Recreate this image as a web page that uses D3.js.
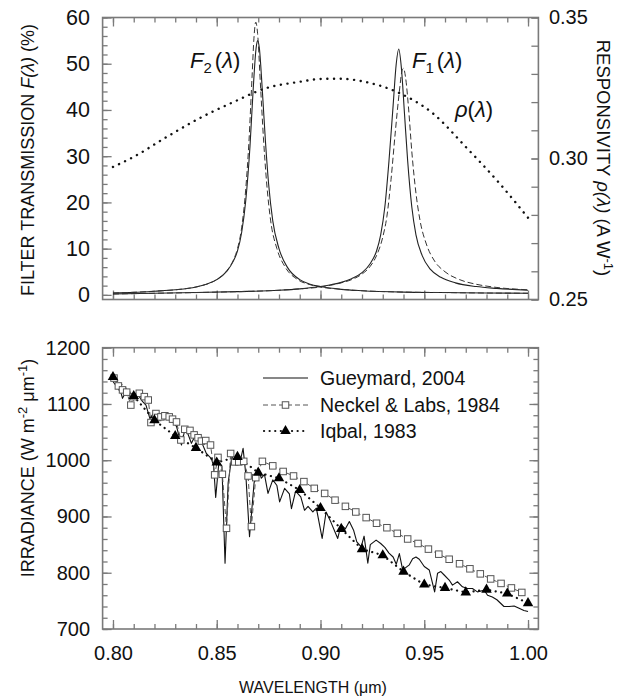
<!DOCTYPE html>
<html>
<head>
<meta charset="utf-8">
<script src="https://cdn.jsdelivr.net/npm/d3@7"></script>
<style>
  body { margin: 0; background: #fff; }
  text { font-family: "Liberation Sans", Arial, sans-serif; fill: #111; }
</style>
</head>
<body>
<svg id="chart" width="618" height="698"></svg>
<script>
// ---- top panel: filter transmission (%) ----
var f2Wave  = [0.800,0.810,0.820,0.830,0.840,0.845,0.850,0.855,0.858,0.860,0.862,0.864,0.866,0.8675,0.869,0.8697,0.8705,0.872,0.8735,0.875,0.877,0.880,0.884,0.890,0.895,0.900,0.910,0.920,0.940,0.960,0.980,1.000];
var f2Solid = [0.4,0.55,0.8,1.1,1.7,2.3,3.3,5.2,7.3,9.5,13.5,20.5,32,44,53.5,55,53.5,44,33,24,16,10,6,3.3,2.3,1.8,1.2,0.9,0.6,0.5,0.4,0.35];
var f2dWave = [0.800,0.810,0.820,0.830,0.840,0.845,0.850,0.855,0.858,0.860,0.862,0.864,0.8655,0.867,0.868,0.8688,0.8697,0.871,0.8725,0.874,0.876,0.879,0.883,0.889,0.895,0.900,0.910,0.920,0.940,0.960,0.980,1.000];
var f2Dash  = [0.4,0.55,0.8,1.1,1.7,2.3,3.3,5.3,7.5,10,14.5,23,33,47,56,59,56.5,46,34,24.5,16,10,6,3.3,2.2,1.7,1.2,0.9,0.6,0.5,0.4,0.35];

var f1Wave  = [0.800,0.820,0.840,0.860,0.880,0.890,0.900,0.905,0.910,0.915,0.920,0.924,0.927,0.929,0.931,0.933,0.935,0.9365,0.9377,0.939,0.9405,0.942,0.944,0.946,0.949,0.953,0.958,0.965,0.975,0.985,1.000];
var f1Solid = [0.2,0.35,0.5,0.7,1.0,1.3,1.8,2.2,2.7,3.5,4.8,6.8,9.5,13,19,29,41,50,53.2,49,39,29,19,13,8.5,5.5,3.8,2.6,1.8,1.4,1.0];
var f1dWave = [0.800,0.820,0.840,0.860,0.880,0.890,0.900,0.905,0.910,0.915,0.920,0.924,0.927,0.930,0.932,0.934,0.936,0.938,0.9393,0.940,0.941,0.9425,0.944,0.946,0.948,0.951,0.955,0.960,0.967,0.975,0.985,1.000];
var f1Dash  = [0.2,0.35,0.5,0.7,1.0,1.3,1.7,2.1,2.6,3.3,4.5,6.2,8.5,12.5,17,25,35,44,48.5,49,47,40,31,22,16,11,7.3,5,3.3,2.3,1.6,1.1];

// responsivity (A/W), right axis
var rhoWave = [0.800,0.810,0.826,0.842,0.858,0.874,0.890,0.900,0.909,0.922,0.938,0.954,0.970,0.986,1.000];
var rhoVal  = [0.2970,0.3006,0.3077,0.3144,0.3200,0.3250,0.3272,0.3282,0.3283,0.3271,0.3232,0.3161,0.3041,0.2914,0.2790];

// ---- bottom panel: irradiance (W m-2 um-1) ----
var guWave = [0.800,0.802,0.804,0.8046,0.8066,0.8085,0.8098,0.812,0.8127,0.8143,0.8159,0.8178,0.8194,0.8207,0.8226,0.825,0.8266,0.828,0.8306,0.833,0.8346,0.836,0.8378,0.8394,0.841,0.8426,0.845,0.8474,0.8485,0.8495,0.851,0.8525,0.854,0.8555,0.857,0.859,0.861,0.8627,0.864,0.8658,0.868,0.870,0.8715,0.873,0.8747,0.877,0.879,0.8803,0.8827,0.885,0.886,0.888,0.8905,0.8923,0.894,0.8963,0.898,0.9008,0.9027,0.905,0.9083,0.9099,0.912,0.9139,0.916,0.9175,0.9196,0.921,0.9228,0.924,0.9268,0.929,0.931,0.933,0.935,0.9365,0.938,0.9396,0.9428,0.9444,0.946,0.9476,0.950,0.9524,0.955,0.9564,0.958,0.9596,0.962,0.9636,0.966,0.9684,0.9708,0.9732,0.9756,0.9789,0.9805,0.9828,0.985,0.9884,0.9909,0.9933,0.9957,0.998,1.000];
var guIrr  = [1140,1130,1118,1110,1124,1112,1107,1115,1113,1104,1098,1074,1083,1068,1071,1077,1080,1072,1060,1027,1054,1048,1030,1042,1045,1033,1012,1003,990,934,995,990,817,960,1000,1000,993,1021,975,864,960,985,968,975,941,965,955,926,950,940,914,945,935,911,918,908,915,861,908,890,861,885,878,891,875,855,846,865,817,850,858,852,845,835,828,815,834,805,814,825,828,824,811,805,766,799,802,796,787,778,784,775,772,772,766,769,760,757,752,740,740,741,737,733,731];

var nlWave = [0.8005,0.8026,0.8046,0.8066,0.8086,0.8098,0.8127,0.8151,0.8170,0.8183,0.8207,0.8215,0.8231,0.8250,0.8271,0.8287,0.8306,0.8327,0.8346,0.8371,0.8391,0.8410,0.8426,0.8447,0.8470,0.8490,0.8506,0.8527,0.8547,0.8567,0.8587,0.8606,0.8630,0.8651,0.8667,0.8688,
              0.872,0.877,0.882,0.887,0.892,0.897,0.902,0.907,0.912,0.917,0.922,0.927,0.932,0.937,0.942,0.947,0.952,0.957,0.962,0.967,0.972,0.977,0.982,0.987,0.992,0.997];
var nlIrr  = [1146,1132,1125,1121,1098,1113,1119,1113,1107,1067,1083,1076,1077,1079,1077,1073,1068,1036,1055,1053,1045,1040,1034,1035,1027,974,1005,975,879,1012,997,997,998,972,882,969,
              998,990,980,972,962,950,941,929,918,908,898,888,880,870,860,852,842,833,824,816,807,798,789,781,773,765];

var iqWave = [0.80,0.81,0.82,0.83,0.84,0.85,0.86,0.87,0.88,0.89,0.90,0.91,0.92,0.93,0.94,0.95,0.96,0.97,0.98,0.99,1.00];
var iqIrr  = [1148,1114,1071,1043,1022,996,1006,978,968,947,915,878,842,831,802,779,773,765,770,763,746];

var xMajor = [0.80,0.85,0.90,0.95,1.00];
var xMinor = d3.range(80, 101).map(function(d) { return d / 100; });
var fMajor = [0,10,20,30,40,50,60];
var fMinor = d3.range(0, 61, 2);
var rMajor = [0.25,0.30,0.35];
var rMinor = d3.range(25, 36).map(function(d) { return d / 100; });
var iMajor = [700,800,900,1000,1100,1200];
var iMinor = d3.range(700, 1201, 20);

var legendItems = ["Gueymard, 2004", "Neckel & Labs, 1984", "Iqbal, 1983"];

var svg = d3.select("#chart");
var frameColor = "#7a7a7a";

var x = d3.scaleLinear().domain([0.795, 1.005]).range([102.6, 538.4]);
var yF = d3.scaleLinear().domain([-1, 60]).range([299.5, 17.5]);
var yR = d3.scaleLinear().domain([0.25, 0.35]).range([299.5, 17.5]);
var yI = d3.scaleLinear().domain([700, 1200]).range([629, 347.7]);

function zip(a, b) { return a.map(function(v, i) { return [v, b[i]]; }); }

// draws one set of inward ticks via a d3 axis
function tickSet(axisFn, scale, values, size, tx, ty, labels, pad, fs) {
  var ax = axisFn(scale).tickValues(values).tickSize(-size).tickSizeOuter(0)
    .tickPadding(pad || 3);
  if (labels) ax.tickFormat(labels); else ax.tickFormat("");
  var g = svg.append("g").attr("transform", "translate(" + tx + "," + ty + ")").call(ax);
  g.select(".domain").remove();
  g.selectAll("line").attr("stroke", frameColor).attr("stroke-width", 1.3);
  g.selectAll("text").attr("font-size", fs || 20).attr("fill", "#111");
  return g;
}

function panelFrame(yTop, yBot) {
  svg.append("rect")
    .attr("x", 102.6).attr("y", yTop)
    .attr("width", 538.4 - 102.6).attr("height", yBot - yTop)
    .attr("fill", "none").attr("stroke", frameColor).attr("stroke-width", 1.6);
}

// ---------- top panel ----------
panelFrame(17.5, 299.5);
tickSet(d3.axisBottom, x, xMinor, 5, 0, 299.5);
tickSet(d3.axisBottom, x, xMajor, 9, 0, 299.5);
tickSet(d3.axisTop, x, xMinor, 5, 0, 17.5);
tickSet(d3.axisTop, x, xMajor, 9, 0, 17.5);
tickSet(d3.axisLeft, yF, fMinor, 5, 102.6, 0);
tickSet(d3.axisLeft, yF, fMajor, 9, 102.6, 0, d3.format("d"), 12.6, 21.5);
tickSet(d3.axisRight, yR, rMinor, 7, 538.4, 0);
tickSet(d3.axisRight, yR, rMajor, 7, 538.4, 0, d3.format(".2f"), 10.5);

var lineF = d3.line().x(function(d) { return x(d[0]); }).y(function(d) { return yF(d[1]); })
  .curve(d3.curveMonotoneX);

var topG = svg.append("g");
topG.append("path").datum(zip(f2Wave, f2Solid))
  .attr("d", lineF).attr("fill", "none").attr("stroke", "#222").attr("stroke-width", 1.1);
topG.append("path").datum(zip(f2dWave, f2Dash))
  .attr("d", lineF).attr("fill", "none").attr("stroke", "#333").attr("stroke-width", 1)
  .attr("stroke-dasharray", "6,3");
topG.append("path").datum(zip(f1Wave, f1Solid))
  .attr("d", lineF).attr("fill", "none").attr("stroke", "#222").attr("stroke-width", 1.1);
topG.append("path").datum(zip(f1dWave, f1Dash))
  .attr("d", lineF).attr("fill", "none").attr("stroke", "#333").attr("stroke-width", 1)
  .attr("stroke-dasharray", "6,3");

var lineR = d3.line().x(function(d) { return x(d[0]); }).y(function(d) { return yR(d[1]); })
  .curve(d3.curveMonotoneX);
topG.append("path").datum(zip(rhoWave, rhoVal))
  .attr("d", lineR).attr("fill", "none").attr("stroke", "#111").attr("stroke-width", 2.4)
  .attr("stroke-linecap", "round").attr("stroke-dasharray", "0.1,6.6");

// curve labels
function fLabel(px, py, sub) {
  var t = svg.append("text").attr("x", px).attr("y", py).attr("font-size", 22);
  t.append("tspan").attr("font-style", "italic").text("F");
  t.append("tspan").attr("font-size", 15).attr("dy", 5).text(sub);
  t.append("tspan").attr("dy", -5).attr("dx", 3).text("(");
  t.append("tspan").attr("font-style", "italic").text("λ");
  t.append("tspan").text(")");
}
fLabel(190, 68, "2");
fLabel(412, 68, "1");
var rl = svg.append("text").attr("x", 455).attr("y", 117).attr("font-size", 22);
rl.append("tspan").attr("font-style", "italic").text("ρ");
rl.append("tspan").text("(");
rl.append("tspan").attr("font-style", "italic").text("λ");
rl.append("tspan").text(")");

// axis titles, top panel
var tl = svg.append("text").attr("transform", "translate(34,160) rotate(-90)")
  .attr("text-anchor", "middle").attr("font-size", 18);
tl.append("tspan").text("FILTER TRANSMISSION ");
tl.append("tspan").attr("font-style", "italic").text("F(λ)");
tl.append("tspan").text(" (%)");

var tr = svg.append("text").attr("transform", "translate(597,158) rotate(90)")
  .attr("text-anchor", "middle").attr("font-size", 18.5);
tr.append("tspan").text("RESPONSIVITY ");
tr.append("tspan").attr("font-style", "italic").text("ρ(λ)");
tr.append("tspan").text(" (A W");
tr.append("tspan").attr("font-size", 13).attr("dy", -7).text("-1");
tr.append("tspan").attr("dy", 7).text(")");

// ---------- bottom panel ----------
panelFrame(347.7, 629);
tickSet(d3.axisBottom, x, xMinor, 5, 0, 629);
tickSet(d3.axisBottom, x, xMajor, 9, 0, 629, d3.format(".2f"), 17);
tickSet(d3.axisTop, x, xMinor, 5, 0, 347.7);
tickSet(d3.axisTop, x, xMajor, 9, 0, 347.7);
tickSet(d3.axisLeft, yI, iMinor, 5, 102.6, 0);
tickSet(d3.axisLeft, yI, iMajor, 9, 102.6, 0, d3.format("d"), 12.6);
tickSet(d3.axisRight, yI, iMinor, 5, 538.4, 0);
tickSet(d3.axisRight, yI, iMajor, 9, 538.4, 0);

var lineI = d3.line().x(function(d) { return x(d[0]); }).y(function(d) { return yI(d[1]); });
var bot = svg.append("g");

bot.append("path").datum(zip(guWave, guIrr))
  .attr("d", lineI).attr("fill", "none").attr("stroke", "#111").attr("stroke-width", 1.1)
  .attr("stroke-linejoin", "round");

bot.append("path").datum(zip(nlWave, nlIrr))
  .attr("d", lineI).attr("fill", "none").attr("stroke", "#555").attr("stroke-width", 1)
  .attr("stroke-dasharray", "5,3");

bot.append("path").datum(zip(iqWave, iqIrr))
  .attr("d", lineI).attr("fill", "none").attr("stroke", "#111").attr("stroke-width", 2.2)
  .attr("stroke-linecap", "round").attr("stroke-dasharray", "0.1,5.5");

var sq = 6.5;
bot.selectAll("rect.nl").data(zip(nlWave, nlIrr)).enter().append("rect")
  .attr("class", "nl")
  .attr("x", function(d) { return x(d[0]) - sq / 2; })
  .attr("y", function(d) { return yI(d[1]) - sq / 2; })
  .attr("width", sq).attr("height", sq)
  .attr("fill", "#fff").attr("stroke", "#555").attr("stroke-width", 1);

var tri = d3.symbol().type(d3.symbolTriangle).size(48);
bot.selectAll("path.iq").data(zip(iqWave, iqIrr)).enter().append("path")
  .attr("class", "iq").attr("d", tri)
  .attr("transform", function(d) { return "translate(" + x(d[0]) + "," + yI(d[1]) + ")"; })
  .attr("fill", "#000");

// legend
var legY = [378, 405, 431];
var leg = svg.append("g");
leg.append("line").attr("x1", 263).attr("x2", 308).attr("y1", legY[0]).attr("y2", legY[0])
  .attr("stroke", "#111").attr("stroke-width", 1.1);
leg.append("line").attr("x1", 263).attr("x2", 308).attr("y1", legY[1]).attr("y2", legY[1])
  .attr("stroke", "#555").attr("stroke-width", 1).attr("stroke-dasharray", "5,3");
leg.append("rect").attr("x", 285.5 - sq / 2).attr("y", legY[1] - sq / 2)
  .attr("width", sq).attr("height", sq).attr("fill", "#fff").attr("stroke", "#555");
leg.append("line").attr("x1", 264).attr("x2", 308).attr("y1", legY[2]).attr("y2", legY[2])
  .attr("stroke", "#111").attr("stroke-width", 2.2)
  .attr("stroke-linecap", "round").attr("stroke-dasharray", "0.1,5.5");
leg.append("path").attr("d", tri).attr("transform", "translate(285.5," + legY[2] + ")");
leg.selectAll("text").data(legendItems).enter().append("text")
  .attr("x", 320).attr("y", function(d, i) { return legY[i] + 7; })
  .attr("font-size", 19.5).text(function(d) { return d; });

// axis titles, bottom panel
var bl = svg.append("text").attr("transform", "translate(34,468) rotate(-90)")
  .attr("text-anchor", "middle").attr("font-size", 18);
bl.append("tspan").text("IRRADIANCE (W m");
bl.append("tspan").attr("font-size", 13).attr("dy", -7).text("-2");
bl.append("tspan").attr("dy", 7).text(" μm");
bl.append("tspan").attr("font-size", 13).attr("dy", -7).text("-1");
bl.append("tspan").attr("dy", 7).text(")");

svg.append("text").attr("x", 313).attr("y", 693).attr("text-anchor", "middle")
  .attr("font-size", 16).text("WAVELENGTH (μm)");
</script>
</body>
</html>
